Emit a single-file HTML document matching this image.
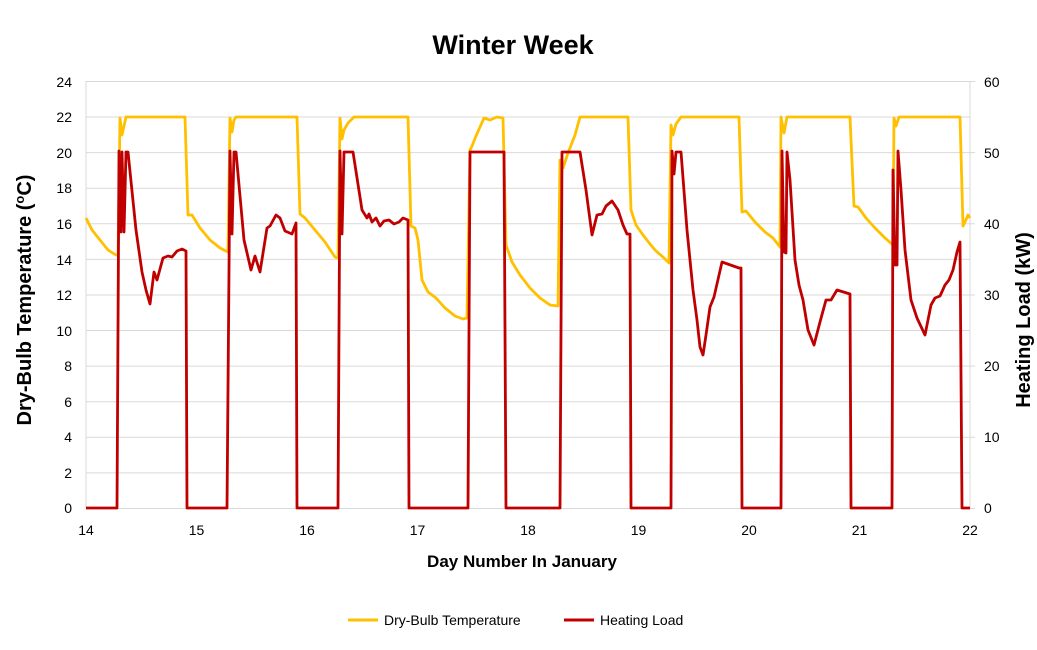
<!DOCTYPE html><html><head><style>body{margin:0;background:#fff}svg text{font-family:"Liberation Sans",sans-serif}</style></head><body>
<svg width="1037" height="645" xmlns="http://www.w3.org/2000/svg">
<text x="513" y="54" font-size="27" font-weight="bold" text-anchor="middle">Winter Week</text>
<g stroke="#d9d9d9" stroke-width="1">
<line x1="86" y1="81.5" x2="970" y2="81.5"/><line x1="86" y1="117" x2="970" y2="117"/><line x1="86" y1="152.6" x2="970" y2="152.6"/><line x1="86" y1="188.2" x2="970" y2="188.2"/><line x1="86" y1="223.8" x2="970" y2="223.8"/><line x1="86" y1="259.4" x2="970" y2="259.4"/><line x1="86" y1="295" x2="970" y2="295"/><line x1="86" y1="330.5" x2="970" y2="330.5"/><line x1="86" y1="366.1" x2="970" y2="366.1"/><line x1="86" y1="401.7" x2="970" y2="401.7"/><line x1="86" y1="437.3" x2="970" y2="437.3"/><line x1="86" y1="472.9" x2="970" y2="472.9"/>
<line x1="86" y1="81" x2="86" y2="508"/><line x1="970" y1="81" x2="970" y2="508"/><line x1="86" y1="508.5" x2="970" y2="508.5"/>
<line x1="970" y1="81.5" x2="975" y2="81.5"/><line x1="970" y1="152.6" x2="975" y2="152.6"/><line x1="970" y1="223.8" x2="975" y2="223.8"/><line x1="970" y1="295" x2="975" y2="295"/><line x1="970" y1="366.1" x2="975" y2="366.1"/><line x1="970" y1="437.3" x2="975" y2="437.3"/><line x1="970" y1="508.5" x2="975" y2="508.5"/>
</g>
<g font-size="14" text-anchor="end">
<text x="72" y="87">24</text><text x="72" y="122">22</text><text x="72" y="158">20</text><text x="72" y="193">18</text><text x="72" y="229">16</text><text x="72" y="265">14</text><text x="72" y="300">12</text><text x="72" y="336">10</text><text x="72" y="371">8</text><text x="72" y="407">6</text><text x="72" y="442">4</text><text x="72" y="478">2</text><text x="72" y="513">0</text>
</g>
<g font-size="14">
<text x="984" y="87">60</text><text x="984" y="158">50</text><text x="984" y="229">40</text><text x="984" y="300">30</text><text x="984" y="371">20</text><text x="984" y="442">10</text><text x="984" y="513">0</text>
</g>
<g font-size="14" text-anchor="middle">
<text x="86" y="535">14</text><text x="196.5" y="535">15</text><text x="307" y="535">16</text><text x="417.5" y="535">17</text><text x="528" y="535">18</text><text x="638.5" y="535">19</text><text x="749" y="535">20</text><text x="859.5" y="535">21</text><text x="970" y="535">22</text>
</g>
<text x="522" y="567" font-size="17" font-weight="bold" text-anchor="middle">Day Number In January</text>
<text transform="translate(31,300) rotate(-90)" font-size="20" font-weight="bold" text-anchor="middle">Dry-Bulb Temperature (<tspan font-size="13" dy="-7">o</tspan><tspan dy="7">C)</tspan></text>
<text transform="translate(1030,320) rotate(-90)" font-size="20" font-weight="bold" text-anchor="middle">Heating Load (kW)</text>
<polyline fill="none" stroke="#ffc000" stroke-width="2.8" stroke-linejoin="round" points="86,218 92,230 100,240 108,250 116,255 118,255 120,118 122,135 124,126 126,117 185,117 188,215 192,215 200,228 210,240 220,248 228,252 230,118 232,132 234,120 236,117 297,117 300,214 305,218 315,230 325,242 335,257 338,258 340,118 342,139 344,130 348,123 354,117 408,117 411,226 415,228 418,240 422,280 428,292 436,298 445,308 455,316 463,319 467,318 470,150 472,146 476,136 484,118 490,120 497,117 503,118 506,245 512,262 520,275 530,288 540,298 550,305 558,306 560,160 563,168 568,153 575,135 580,117 628,117 631,210 636,225 643,235 650,244 655,250 664,258 669,263 671,125 673,135 676,124 681,117 739,117 742,212 746,211 755,222 765,232 773,238 780,247 781,117 784,133 787,117 850,117 854,206 858,207 866,218 875,228 885,238 893,245 894,118 896,126 899,117 960,117 963,226 965,222 968,215 970,218"/>
<polyline fill="none" stroke="#c00000" stroke-width="2.8" stroke-linejoin="round" points="86,508 117,508 119,151 121,232 122,152 124,232 126,152 128,152 136,230 142,272 146,290 150,304 154,272 157,280 163,258 168,256 172,257 177,251 182,249 186,251 187,508 227,508 230,151 232,234 234,152 236,152 244,240 251,270 255,256 260,272 267,228 270,226 276,215 280,218 285,231 292,234 296,223 297,508 338,508 340,151 342,234 344,152 353,152 362,210 367,218 369,214 372,222 376,218 380,226 384,221 389,220 394,224 399,222 403,218 408,220 409,508 468,508 470,152 504,152 506,508 560,508 562,152 580,152 586,190 592,235 597,215 602,214 606,206 612,201 618,210 623,225 627,234 630,234 631,508 671,508 672,151 674,174 676,152 681,152 687,230 693,290 697,320 700,347 703,355 706,335 710,307 714,297 722,262 739,268 741,268 742,508 781,508 782,151 784,252 786,253 787,152 790,180 795,260 799,285 803,300 808,330 814,345 820,322 826,300 831,300 837,290 850,294 851,508 892,508 893,170 895,265 897,265 898,151 901,190 905,250 911,300 917,318 925,335 931,305 935,298 940,296 945,285 949,280 953,270 957,252 960,242 962,508 970,508"/>
<line x1="348" y1="620" x2="378" y2="620" stroke="#ffc000" stroke-width="3"/>
<text x="384" y="625" font-size="14">Dry-Bulb Temperature</text>
<line x1="564" y1="620" x2="594" y2="620" stroke="#c00000" stroke-width="3"/>
<text x="600" y="625" font-size="14">Heating Load</text>
</svg>
</body></html>
